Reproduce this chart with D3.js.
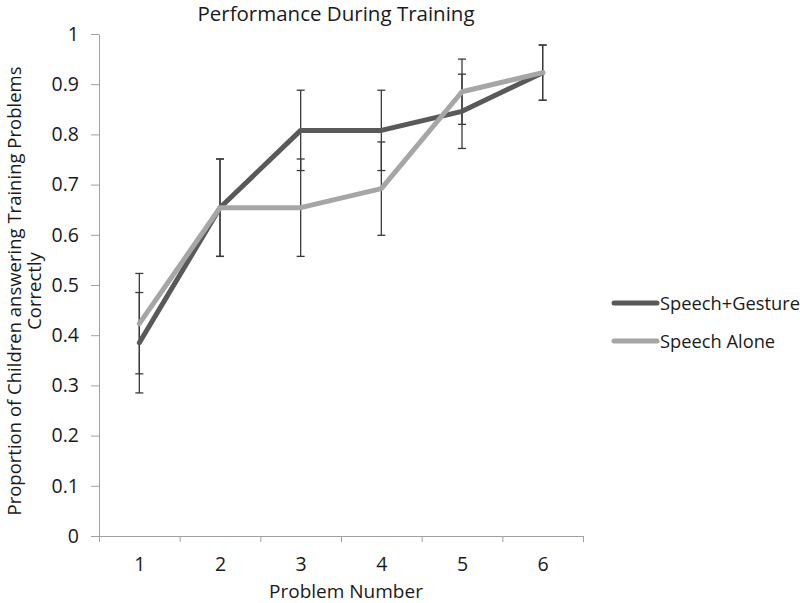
<!DOCTYPE html>
<html>
<head>
<meta charset="utf-8">
<script src="https://cdn.jsdelivr.net/npm/d3@7"></script>
<style>
  body { margin: 0; background: #fff; }
  svg { display: block; }
  text { font-family: "Open Sans", sans-serif; fill: #1a1a1a; }
</style>
</head>
<body>
<svg id="chart" width="800" height="603"></svg>
<script>
const problems = [1, 2, 3, 4, 5, 6];
const speechGesture = [0.385, 0.654, 0.808, 0.808, 0.846, 0.923];
const speechGestureErr = [0.100, 0.097, 0.080, 0.080, 0.074, 0.055];
const speechAlone = [0.423, 0.654, 0.654, 0.692, 0.885, 0.923];
const speechAloneErr = [0.100, 0.097, 0.097, 0.093, 0.065, 0.055];
const yTicks = [0, 0.1, 0.2, 0.3, 0.4, 0.5, 0.6, 0.7, 0.8, 0.9, 1];
const seriesNames = ["Speech+Gesture", "Speech Alone"];
const seriesColors = ["#595959", "#a6a6a6"];

const series = [
  { name: seriesNames[0], color: seriesColors[0], values: speechGesture, err: speechGestureErr },
  { name: seriesNames[1], color: seriesColors[1], values: speechAlone, err: speechAloneErr }
];

const svg = d3.select("#chart");
const plotLeft = 99, plotRight = 583, plotTop = 34, plotBottom = 536;

const x = d3.scaleLinear().domain([0.5, 6.5]).range([plotLeft, plotRight]);
const y = d3.scaleLinear().domain([0, 1]).range([plotBottom, plotTop]);

// Y axis
const yAxis = svg.append("g").attr("transform", `translate(${plotLeft},0)`)
  .call(d3.axisLeft(y).tickValues(yTicks).tickSize(8).tickSizeOuter(0)
    .tickFormat(d => d === 0 ? "0" : d === 1 ? "1" : d3.format(".1f")(d)));
yAxis.select(".domain").attr("stroke", "#a0a0a0");
yAxis.selectAll(".tick line").attr("stroke", "#a0a0a0");
yAxis.selectAll(".tick text").attr("x", -20).attr("font-size", 19.5).attr("font-family", "Open Sans").attr("fill", "#1a1a1a");

// X axis: boundary ticks
const xBoundaries = d3.range(0.5, 6.51, 1);
const xAxis = svg.append("g").attr("transform", `translate(0,${plotBottom})`)
  .call(d3.axisBottom(x).tickValues(xBoundaries).tickSize(6).tickSizeOuter(0).tickFormat(""));
xAxis.select(".domain").attr("stroke", "#a0a0a0");
xAxis.selectAll(".tick line").attr("stroke", "#a0a0a0");

// X labels at category centers
const xLabels = svg.append("g").attr("transform", `translate(0,${plotBottom})`)
  .call(d3.axisBottom(x).tickValues(problems).tickSize(0).tickFormat(d3.format("d")));
xLabels.select(".domain").remove();
xLabels.selectAll(".tick text").attr("y", 21).attr("font-size", 19.5).attr("font-family", "Open Sans").attr("fill", "#1a1a1a");

// Error bars
const capW = 4;
series.forEach(s => {
  const g = svg.append("g");
  problems.forEach((p, i) => {
    const v = s.values[i], e = s.err[i];
    const cx = x(p);
    g.append("line").attr("x1", cx).attr("x2", cx).attr("y1", y(v - e)).attr("y2", y(v + e))
      .attr("stroke", "#3a3a3a").attr("stroke-width", 1.3);
    [v - e, v + e].forEach(t => {
      g.append("line").attr("x1", cx - capW).attr("x2", cx + capW).attr("y1", y(t)).attr("y2", y(t))
        .attr("stroke", "#3a3a3a").attr("stroke-width", 1.3);
    });
  });
});

// Lines
const line = d3.line().x((d, i) => x(problems[i])).y(d => y(d));
series.forEach(s => {
  svg.append("path").datum(s.values).attr("d", line)
    .attr("fill", "none").attr("stroke", s.color).attr("stroke-width", 5)
    .attr("stroke-linejoin", "round").attr("stroke-linecap", "round");
});

// Legend
const legendY = [303, 341];
series.forEach((s, i) => {
  svg.append("line").attr("x1", 614).attr("x2", 657).attr("y1", legendY[i]).attr("y2", legendY[i])
    .attr("stroke", s.color).attr("stroke-width", 5).attr("stroke-linecap", "round");
  svg.append("text").attr("x", 660).attr("y", legendY[i] + 6.5).attr("font-size", 18.3).text(s.name);
});

// Title
svg.append("text").attr("x", 336).attr("y", 21).attr("text-anchor", "middle").attr("font-size", 20.5)
  .text("Performance During Training");

// X axis title
svg.append("text").attr("x", 346).attr("y", 598).attr("text-anchor", "middle").attr("font-size", 19)
  .text("Problem Number");

// Y axis title
const yt = svg.append("text").attr("transform", "translate(0,291) rotate(-90)").attr("text-anchor", "middle").attr("font-size", 18.5);
yt.append("tspan").attr("x", 0).attr("y", 21).text("Proportion of Children answering Training Problems");
yt.append("tspan").attr("x", 0).attr("y", 41).text("Correctly");
</script>
</body>
</html>
